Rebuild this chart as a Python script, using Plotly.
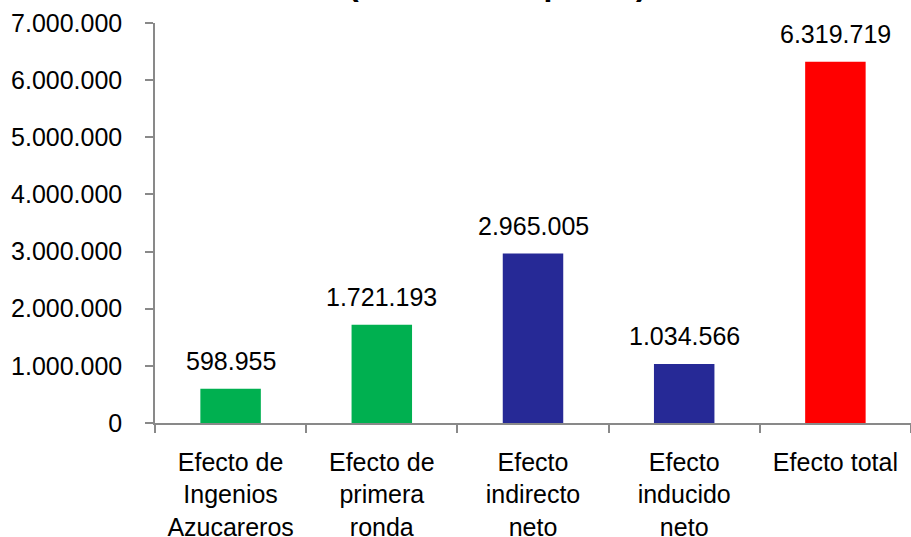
import plotly.graph_objects as go

categories = ["Efecto de<br>Ingenios<br>Azucareros", "Efecto de<br>primera<br>ronda",
              "Efecto<br>indirecto<br>neto", "Efecto<br>inducido<br>neto", "Efecto total"]
values = [598955, 1721193, 2965005, 1034566, 6319719]
colors = ["#00B050", "#00B050", "#262996", "#262996", "#FF0000"]
subtitle = "(millones de pesos)"
FONT = "Liberation Sans"


def fmt(v):
    return f"{v:,}".replace(",", ".")


fig = go.Figure(go.Bar(
    x=categories,
    y=values,
    marker_color=colors,
    marker_line_width=0,
    hoverinfo="x+y",
))

for c, v in zip(categories, values):
    fig.add_annotation(x=c, y=v, text=fmt(v), showarrow=False,
                       yanchor="bottom", yshift=12,
                       font=dict(family=FONT, size=25, color="black"))

# title is mostly cut off at the top of the picture, only its second line peeks in
fig.add_annotation(xref="paper", yref="paper", x=0.453, y=1.097, text="<b>" + subtitle + "</b>",
                   showarrow=False, xanchor="center", yanchor="middle",
                   font=dict(family=FONT, size=32, color="black"))

fig.update_layout(
    width=911, height=537,
    margin=dict(t=23, l=155, r=0, b=114),
    paper_bgcolor="white",
    plot_bgcolor="white",
    separators=",.",
    bargap=0.6,
    showlegend=False,
    font=dict(family=FONT, size=25, color="black"),
)
fig.update_xaxes(
    showline=True, linecolor="#898989", linewidth=1.5,
    ticks="outside", tickson="boundaries", ticklen=8, tickcolor="#898989", tickwidth=1.5,
    showgrid=False, tickfont=dict(family=FONT, size=25, color="black"),
    ticklabelstandoff=16, automargin=False,
)
fig.update_yaxes(
    range=[0, 7000000], dtick=1000000, tickformat=",d",
    showline=True, linecolor="#898989", linewidth=1.5,
    ticks="outside", ticklen=8, tickcolor="#898989", tickwidth=1.5,
    showgrid=False, zeroline=False, tickfont=dict(family=FONT, size=25, color="black"),
    ticklabelstandoff=18, automargin=False,
)

# drop the page's default body margin so the figure sits at the window's corner
fig.write_html("out.html", config={"displayModeBar": False},
               post_script="document.body.style.margin='0px';")
